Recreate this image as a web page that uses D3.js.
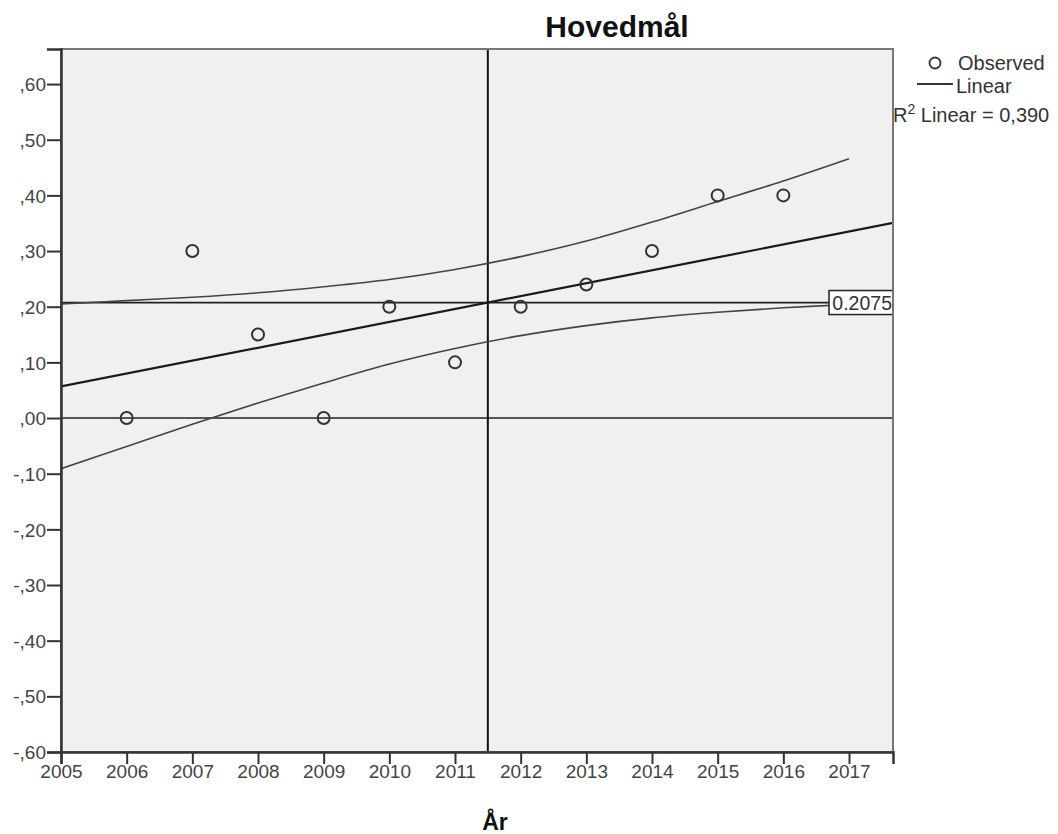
<!DOCTYPE html>
<html>
<head>
<meta charset="utf-8">
<script src="https://cdn.jsdelivr.net/npm/d3@7"></script>
<style>
  body { margin: 0; background: #fff; }
  text { font-family: "Liberation Sans", Arial, sans-serif; }
</style>
</head>
<body>
<div id="chart"></div>
<script>
// observed values per year
var years = [2006, 2007, 2008, 2009, 2010, 2011, 2012, 2013, 2014, 2015, 2016];
var observed = [0.00, 0.30, 0.15, 0.00, 0.20, 0.10, 0.20, 0.24, 0.30, 0.40, 0.40];

// fitted linear line (read at the plot edges)
var fitYears = [2005, 2017.67];
var fitValues = [0.0567, 0.3506];

// confidence curves, read at each year
var bandYears = [2005, 2006, 2007, 2008, 2009, 2010, 2011, 2012, 2013, 2014, 2015, 2016, 2017];
var upperBand = [0.205, 0.211, 0.217, 0.225, 0.236, 0.249, 0.267, 0.290, 0.318, 0.352, 0.389, 0.426, 0.466];
var lowerBand = [-0.091, -0.051, -0.011, 0.027, 0.063, 0.097, 0.125, 0.148, 0.166, 0.180, 0.190, 0.198, 0.204];

// reference lines
var refYear = 2011.5;
var refValue = 0.2075;
var zeroValue = 0;

var xTicks = [2005, 2006, 2007, 2008, 2009, 2010, 2011, 2012, 2013, 2014, 2015, 2016, 2017];
var yTicks = [0.6, 0.5, 0.4, 0.3, 0.2, 0.1, 0, -0.1, -0.2, -0.3, -0.4, -0.5, -0.6];

var width = 1058, height = 834;
var margin = { top: 49, right: 165, bottom: 82, left: 61 };
var w = width - margin.left - margin.right,
    h = height - margin.top - margin.bottom;

var svg = d3.select('#chart').append('svg')
  .attr('width', width)
  .attr('height', height);

var g = svg.append('g')
  .attr('transform', 'translate(' + margin.left + ',' + margin.top + ')');

var x = d3.scaleLinear().domain([2005, 2017.67]).range([0, w]);
var y = d3.scaleLinear().domain([-0.6, 0.663]).range([h, 0]);

g.append('rect')
  .attr('width', w).attr('height', h)
  .attr('fill', '#f0f0f0');

g.append('clipPath').attr('id', 'clip')
  .append('rect').attr('width', w).attr('height', h);

var plot = g.append('g').attr('clip-path', 'url(#clip)');

// reference lines
plot.append('line')
  .attr('x1', 0).attr('x2', w)
  .attr('y1', y(zeroValue)).attr('y2', y(zeroValue))
  .attr('stroke', '#222').attr('stroke-width', 1.5);

plot.append('line')
  .attr('x1', 0).attr('x2', w)
  .attr('y1', y(refValue)).attr('y2', y(refValue))
  .attr('stroke', '#222').attr('stroke-width', 1.8);

plot.append('line')
  .attr('x1', x(refYear)).attr('x2', x(refYear))
  .attr('y1', 0).attr('y2', h)
  .attr('stroke', '#111').attr('stroke-width', 2);

// confidence curves
var curve = d3.line()
  .x(function(d) { return x(d[0]); })
  .y(function(d) { return y(d[1]); })
  .curve(d3.curveCatmullRom);

plot.append('path')
  .datum(d3.zip(bandYears, upperBand))
  .attr('d', curve)
  .attr('fill', 'none').attr('stroke', '#444').attr('stroke-width', 1.6);

plot.append('path')
  .datum(d3.zip(bandYears, lowerBand))
  .attr('d', curve)
  .attr('fill', 'none').attr('stroke', '#444').attr('stroke-width', 1.6);

// fit line
plot.append('path')
  .datum(d3.zip(fitYears, fitValues))
  .attr('d', d3.line().x(function(d) { return x(d[0]); }).y(function(d) { return y(d[1]); }))
  .attr('fill', 'none').attr('stroke', '#1a1a1a').attr('stroke-width', 2.2);

// observed points
plot.selectAll('.pt')
  .data(d3.zip(years, observed))
  .enter().append('circle')
  .attr('class', 'pt')
  .attr('cx', function(d) { return x(d[0]); })
  .attr('cy', function(d) { return y(d[1]); })
  .attr('r', 6)
  .attr('fill', 'none')
  .attr('stroke', '#333')
  .attr('stroke-width', 2);

// label for the reference line
var lab = g.append('g');
g.append('clipPath').attr('id', 'labclip')
  .append('rect').attr('x', w - 64).attr('y', y(refValue) - 12).attr('width', 64).attr('height', 24);
lab.append('rect')
  .attr('x', w - 64).attr('y', y(refValue) - 12)
  .attr('width', 64).attr('height', 24)
  .attr('fill', '#fff');
lab.append('text')
  .attr('clip-path', 'url(#labclip)')
  .attr('x', w - 1).attr('y', y(refValue) + 7)
  .attr('text-anchor', 'end')
  .attr('font-size', 19.5)
  .attr('fill', '#333')
  .text(d3.format('.4f')(refValue));
lab.append('rect')
  .attr('x', w - 64).attr('y', y(refValue) - 12)
  .attr('width', 64).attr('height', 24)
  .attr('fill', 'none').attr('stroke', '#222').attr('stroke-width', 1.5);

// frame
g.append('rect')
  .attr('width', w).attr('height', h)
  .attr('fill', 'none').attr('stroke', '#777').attr('stroke-width', 2);

// axes
var fmt = function(v) {
  return d3.format('.2f')(v).replace('0.', ',').replace('\u2212', '-');
};

var yAxis = g.append('g')
  .call(d3.axisLeft(y).tickValues(yTicks).tickFormat(fmt).tickSize(14).tickPadding(1));
var xAxis = g.append('g')
  .attr('transform', 'translate(0,' + h + ')')
  .call(d3.axisBottom(x).tickValues(xTicks).tickFormat(d3.format('d')).tickSize(12).tickPadding(3));

[yAxis, xAxis].forEach(function(a) {
  a.attr('font-size', 19).attr('font-family', '"Liberation Sans", Arial, sans-serif');
  a.select('.domain').attr('stroke', '#333').attr('stroke-width', 2.5);
  a.selectAll('.tick line').attr('stroke', '#333').attr('stroke-width', 2);
  a.selectAll('.tick text').attr('fill', '#444');
});
yAxis.selectAll('.tick text').attr('dy', '0.35em');
xAxis.selectAll('.tick text').attr('dy', '0.6em');

// title and axis label
svg.append('text')
  .attr('x', 617).attr('y', 37)
  .attr('text-anchor', 'middle')
  .attr('font-size', 30).attr('font-weight', 'bold')
  .attr('fill', '#111')
  .text('Hovedmål');

svg.append('text')
  .attr('x', 495).attr('y', 830)
  .attr('text-anchor', 'middle')
  .attr('font-size', 23).attr('font-weight', 'bold')
  .attr('fill', '#111')
  .text('År');

// legend
var leg = svg.append('g');
leg.append('circle')
  .attr('cx', 935).attr('cy', 63).attr('r', 5.5)
  .attr('fill', 'none').attr('stroke', '#333').attr('stroke-width', 1.8);
leg.append('text')
  .attr('x', 958).attr('y', 70)
  .attr('font-size', 20).attr('fill', '#333')
  .text('Observed');
leg.append('line')
  .attr('x1', 917).attr('x2', 953).attr('y1', 84).attr('y2', 84)
  .attr('stroke', '#333').attr('stroke-width', 2.2);
leg.append('text')
  .attr('x', 956).attr('y', 93)
  .attr('font-size', 20).attr('fill', '#333')
  .text('Linear');
var r2 = leg.append('text')
  .attr('x', 893).attr('y', 122)
  .attr('font-size', 20).attr('fill', '#333');
r2.append('tspan').text('R');
r2.append('tspan').attr('dy', -8).attr('font-size', 14).text('2');
r2.append('tspan').attr('dy', 8).text(' Linear = 0,390');
</script>
</body>
</html>
